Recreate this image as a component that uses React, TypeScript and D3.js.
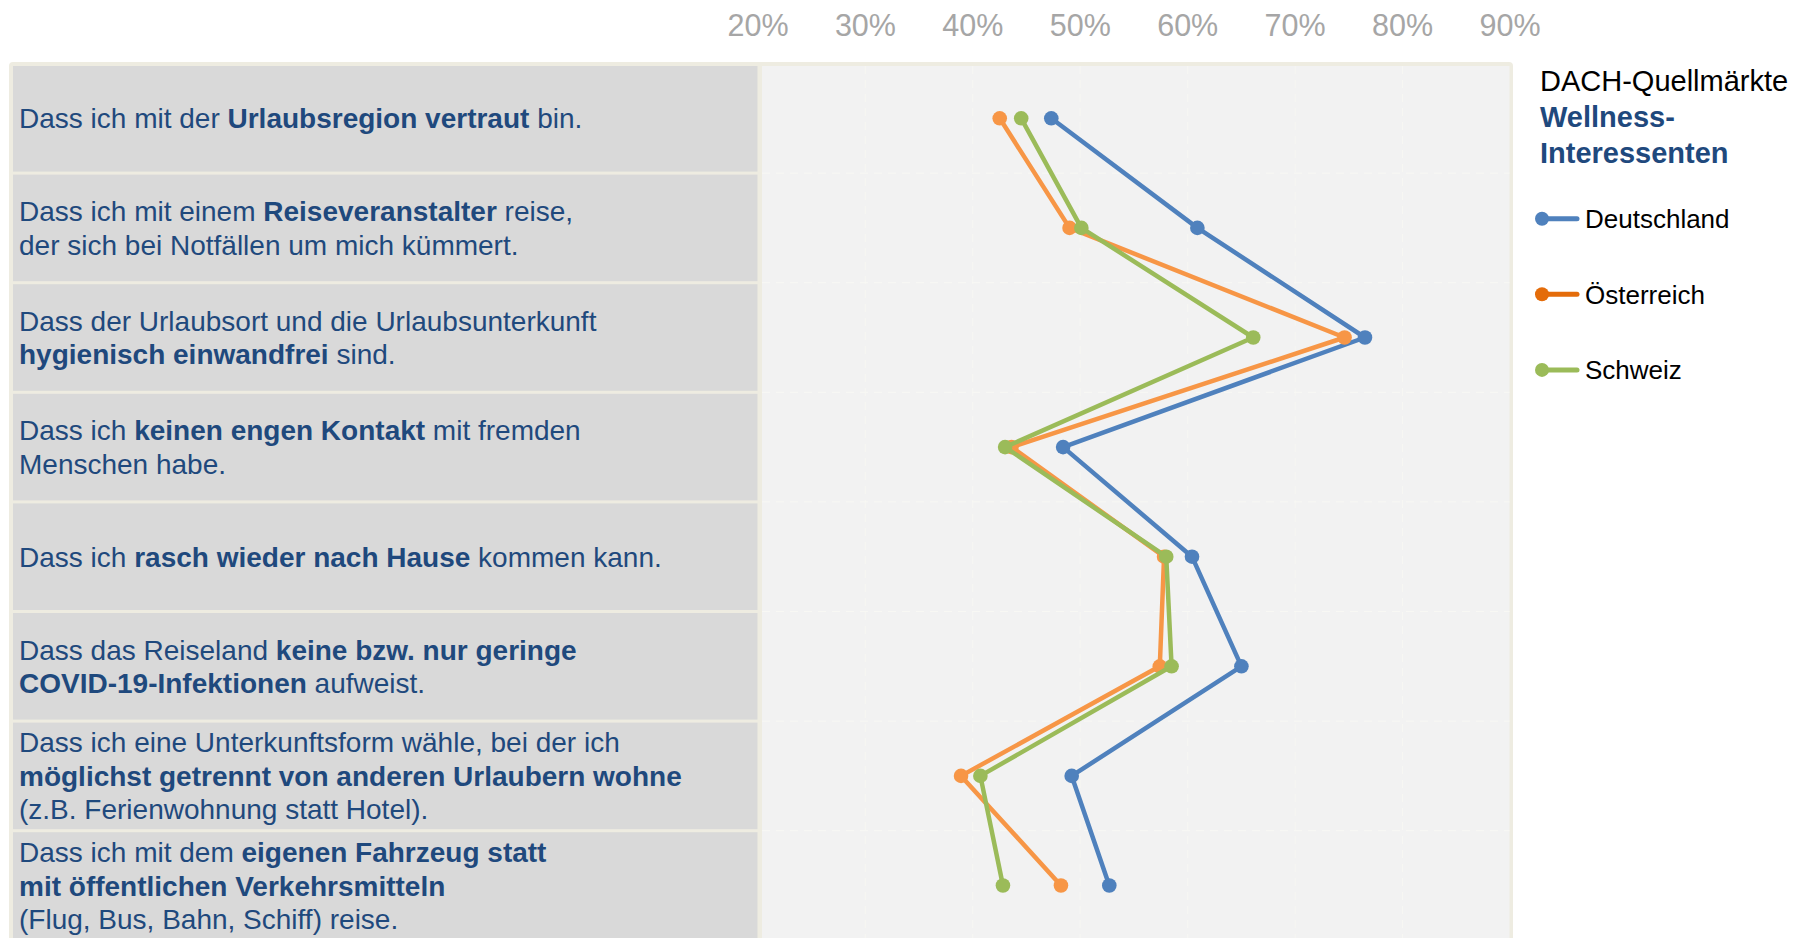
import React from "react";
import * as d3 from "d3";

// ---- data ----
const categories: string[][] = [
  ["Dass ich mit der **Urlaubsregion vertraut** bin."],
  ["Dass ich mit einem **Reiseveranstalter** reise,", "der sich bei Notfällen um mich kümmert."],
  ["Dass der Urlaubsort und die Urlaubsunterkunft", "**hygienisch einwandfrei** sind."],
  ["Dass ich **keinen engen Kontakt** mit fremden", "Menschen habe."],
  ["Dass ich **rasch wieder nach Hause** kommen kann."],
  ["Dass das Reiseland **keine bzw. nur geringe**", "**COVID-19-Infektionen** aufweist."],
  [
    "Dass ich eine Unterkunftsform wähle, bei der ich",
    "**möglichst getrennt von anderen Urlaubern wohne**",
    "(z.B. Ferienwohnung statt Hotel).",
  ],
  [
    "Dass ich mit dem **eigenen Fahrzeug statt**",
    "**mit öffentlichen Verkehrsmitteln**",
    "(Flug, Bus, Bahn, Schiff) reise.",
  ],
];

const deutschland = [47.3, 60.9, 76.5, 48.4, 60.4, 65.0, 49.2, 52.7];
const oesterreich = [42.5, 49.0, 74.6, 43.6, 57.8, 57.4, 38.9, 48.2];
const schweiz = [44.5, 50.1, 66.1, 43.0, 58.0, 58.5, 40.7, 42.8];

const seriesNames = ["Deutschland", "Österreich", "Schweiz"];
const tickValues = [20, 30, 40, 50, 60, 70, 80, 90];
const legendTitle = "DACH-Quellmärkte";
const legendSubtitle = ["Wellness-", "Interessenten"];

// ---- styles ----
const FONT = "'Liberation Sans', Arial, Helvetica, sans-serif";
const lineColors = ["#4f81bd", "#f79646", "#9bbb59"];
const legendColors = ["#4f81bd", "#e46c0a", "#9bbb59"];
const textBlue = "#1f497d";

function parseSegments(s: string) {
  const parts = s.split("**");
  return parts.map((t, i) => ({ text: t, bold: i % 2 === 1 })).filter((p) => p.text.length > 0);
}

export default function App() {
  const W = 1795;
  const H = 938;
  const x = d3.scaleLinear().domain([20, 90]).range([758, 1510]);
  const rowTop = 63.5;
  const rowH = 109.6;
  const y = d3
    .scaleBand<number>()
    .domain(d3.range(categories.length))
    .range([rowTop, rowTop + rowH * categories.length])
    .padding(0);
  const bw = y.bandwidth();
  const cy = (i: number) => (y(i) as number) + bw / 2;

  const series = [deutschland, oesterreich, schweiz];
  const line = d3
    .line<number>()
    .x((d) => x(d))
    .y((_d, i) => cy(i));

  const panelLeft = 762;
  const panelRight = 1509.5;
  const bottom = rowTop + rowH * categories.length + 20;

  return (
    <svg
      width={W}
      height={H}
      style={{ position: "absolute", left: 0, top: 0, background: "#ffffff" }}
      fontFamily={FONT}
    >
      <rect x={0} y={0} width={W} height={H} fill="#ffffff" />
      {/* tick labels */}
      {tickValues.map((t) => (
        <text key={t} x={x(t)} y={36} textAnchor="middle" fontSize={30.5} fill="#a6a6a6">
          {t}%
        </text>
      ))}
      {/* frame */}
      <rect x={9} y={62} width={1513 - 9} height={bottom - 62} rx={4} fill="#eeece1" />
      {/* left label column rows */}
      {categories.map((_c, i) => (
        <rect
          key={"r" + i}
          x={13}
          y={(y(i) as number) + (i === 0 ? 2.5 : 1.5)}
          width={757.5 - 13}
          height={bw - (i === 0 ? 4 : 3)}
          fill="#d9d9d9"
        />
      ))}
      {/* plot panel */}
      <rect x={panelLeft} y={66} width={panelRight - panelLeft} height={bottom - 66} fill="#f2f2f2" />
      {/* faint dashed gridlines */}
      {tickValues.slice(1, -1).map((t) => (
        <line
          key={"g" + t}
          x1={x(t)}
          x2={x(t)}
          y1={66}
          y2={bottom}
          stroke="#f7f7f3"
          strokeWidth={1}
          strokeDasharray="8,6"
        />
      ))}
      {d3.range(1, categories.length).map((i) => (
        <line
          key={"h" + i}
          x1={panelLeft}
          x2={panelRight}
          y1={y(i) as number}
          y2={y(i) as number}
          stroke="#f8f8f4"
          strokeWidth={1}
          strokeDasharray="8,6"
        />
      ))}
      {/* category labels */}
      {categories.map((lines, i) => {
        const n = lines.length;
        const spacing = 33.5;
        return lines.map((ln, k) => (
          <text
            key={"t" + i + "-" + k}
            x={19}
            y={cy(i) + (k - (n - 1) / 2) * spacing + 10}
            fontSize={28}
            fill={textBlue}
          >
            {parseSegments(ln).map((seg, j) => (
              <tspan key={j} fontWeight={seg.bold ? "bold" : "normal"}>
                {seg.text}
              </tspan>
            ))}
          </text>
        ));
      })}
      {/* series lines and markers */}
      {series.map((s, si) => (
        <g key={"s" + si}>
          <path d={line(s) || ""} fill="none" stroke={lineColors[si]} strokeWidth={4.5} strokeLinejoin="round" />
          {s.map((v, i) => (
            <circle key={i} cx={x(v)} cy={cy(i)} r={7.3} fill={lineColors[si]} />
          ))}
        </g>
      ))}
      {/* legend */}
      <text x={1540} y={91} fontSize={29} fill="#000000">
        {legendTitle}
      </text>
      {legendSubtitle.map((t, i) => (
        <text key={t} x={1540} y={127 + i * 35.5} fontSize={29} fontWeight="bold" fill={textBlue}>
          {t}
        </text>
      ))}
      {seriesNames.map((name, i) => {
        const ly = 218.7 + i * 75.6;
        return (
          <g key={name}>
            <line x1={1542} x2={1577} y1={ly} y2={ly} stroke={legendColors[i]} strokeWidth={5} strokeLinecap="round" />
            <circle cx={1542} cy={ly} r={7} fill={legendColors[i]} />
            <text x={1585} y={ly + 9.3} fontSize={26} fill="#000000">
              {name}
            </text>
          </g>
        );
      })}
    </svg>
  );
}
